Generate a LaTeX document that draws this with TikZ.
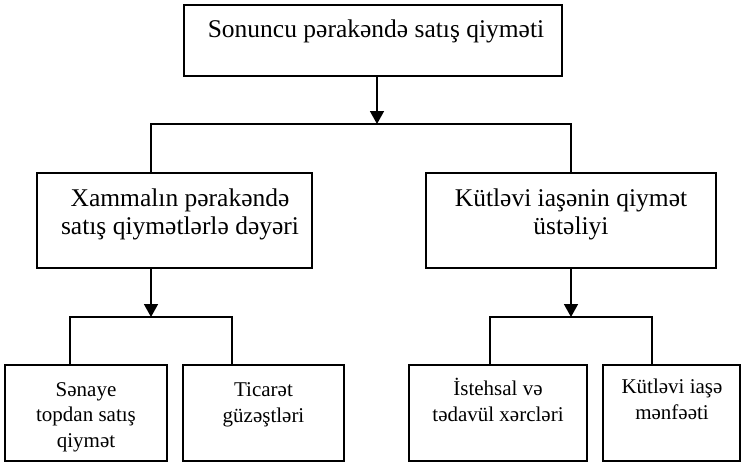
\documentclass[tikz,border=0pt]{standalone}
\usepackage{fontspec}
\setmainfont{Liberation Serif}
\usetikzlibrary{arrows.meta}
\begin{document}
\begin{tikzpicture}[x=1pt,y=-1pt,
  box/.style={draw=black,line width=1.6pt,fill=white,inner sep=0pt},
  bigtext/.style={inner sep=0pt,align=center,font=\fontsize{25.5}{28}\selectfont},
  smalltext/.style={inner sep=0pt,align=center,font=\fontsize{21}{25.5}\selectfont},
  link/.style={line width=1.6pt},
  arrowlink/.style={link,-{Triangle[width=14pt,length=13pt]}}]
\useasboundingbox (0,0) rectangle (741,464);

% boxes (centre, width, height)
\node[box,minimum width=378pt,minimum height=71pt] (top) at (373,40.5) {};
\node[box,minimum width=275pt,minimum height=95pt] (left) at (174.5,220.5) {};
\node[box,minimum width=290pt,minimum height=95pt] (right) at (571,220.5) {};
\node[box,minimum width=162pt,minimum height=96pt] (b1) at (86,413) {};
\node[box,minimum width=161pt,minimum height=96pt] (b2) at (263.5,413) {};
\node[box,minimum width=178pt,minimum height=96pt] (b3) at (498,413) {};
\node[box,minimum width=137pt,minimum height=96pt] (b4) at (671.5,413) {};

% labels (base anchor = baseline of the last line)
\node[bigtext,anchor=base] (ttop) at (376,37) {Sonuncu pərakəndə satış qiyməti};
\node[bigtext,anchor=base] (tleft) at (180,234) {Xammalın pərakəndə\\satış qiymətlərlə dəyəri};
\node[bigtext,anchor=base] (tright) at (571,234) {Kütləvi iaşənin qiymət\\üstəliyi};
\node[smalltext,anchor=base] (tb1) at (86,447) {Sənaye\\topdan satış\\qiymət};
\node[smalltext,anchor=base] (tb2) at (263.5,422) {Ticarət\\güzəştləri};
\node[smalltext,anchor=base] (tb3) at (498,421) {İstehsal və\\tədavül xərcləri};
\node[smalltext,anchor=base] (tb4) at (672,419) {Kütləvi iaşə\\mənfəəti};

% junction points
\coordinate (j0) at (377,124);
\coordinate (j1) at (151,317);
\coordinate (j2) at (571,317);

% connectors
\draw[arrowlink] (top.south -| j0) -- (j0);
\draw[link] (left.north -| 151,0) |- (j0) -| (right.north);
\draw[arrowlink] (left.south -| j1) -- (j1);
\draw[link] (b1.north -| 70,0) |- (j1) -| (b2.north -| 232,0);
\draw[arrowlink] (right.south -| j2) -- (j2);
\draw[link] (b3.north -| 490,0) |- (j2) -| (b4.north -| 652,0);
\end{tikzpicture}
\end{document}
